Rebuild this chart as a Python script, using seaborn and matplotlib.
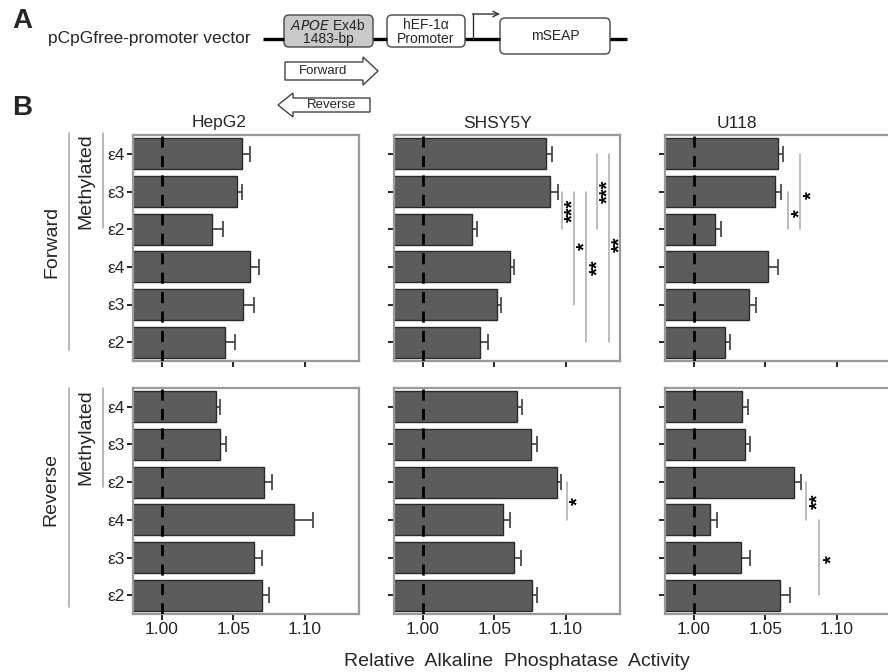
import numpy as np
import pandas as pd
import matplotlib
matplotlib.use('Agg')
import matplotlib.pyplot as plt
from matplotlib.patches import FancyBboxPatch, Polygon
from matplotlib.transforms import offset_copy
import seaborn as sns

# ---- data ----
cells = ['HepG2', 'SHSY5Y', 'U118']
strands = ['Forward', 'Reverse']
rows = ['Methylated ε4', 'Methylated ε3', 'Methylated ε2', 'ε4', 'ε3', 'ε2']
row_labels = ['ε4', 'ε3', 'ε2', 'ε4', 'ε3', 'ε2']
x_ticks = [1.00, 1.05, 1.10]
x_ticklabels = ['1.00', '1.05', '1.10']

hepg2_fwd = [1.056, 1.053, 1.035, 1.062, 1.057, 1.044]
hepg2_fwd_err = [0.0056, 0.0035, 0.008, 0.006, 0.0075, 0.007]
shsy_fwd = [1.086, 1.089, 1.0345, 1.061, 1.052, 1.040]
shsy_fwd_err = [0.0042, 0.006, 0.0037, 0.0028, 0.0028, 0.006]
u118_fwd = [1.0588, 1.057, 1.015, 1.0523, 1.0386, 1.0216]
u118_fwd_err = [0.004, 0.0042, 0.0044, 0.0065, 0.0049, 0.0035]

hepg2_rev = [1.0378, 1.0406, 1.0716, 1.0923, 1.0646, 1.0704]
hepg2_rev_err = [0.003, 0.0042, 0.0054, 0.0135, 0.0056, 0.005]
shsy_rev = [1.066, 1.0761, 1.0942, 1.0562, 1.0641, 1.0766]
shsy_rev_err = [0.0037, 0.0042, 0.0028, 0.0046, 0.0046, 0.0032]
u118_rev = [1.034, 1.0358, 1.070, 1.0116, 1.0328, 1.0602]
u118_rev_err = [0.0037, 0.0033, 0.0051, 0.0047, 0.0067, 0.0074]

values = {
    ('Forward', 'HepG2'): (hepg2_fwd, hepg2_fwd_err),
    ('Forward', 'SHSY5Y'): (shsy_fwd, shsy_fwd_err),
    ('Forward', 'U118'): (u118_fwd, u118_fwd_err),
    ('Reverse', 'HepG2'): (hepg2_rev, hepg2_rev_err),
    ('Reverse', 'SHSY5Y'): (shsy_rev, shsy_rev_err),
    ('Reverse', 'U118'): (u118_rev, u118_rev_err),
}

# significance brackets: (row from, row to, line x, label, label x, label row)
sig_marks = {
    ('Forward', 'SHSY5Y'): [(1, 2, 1.0976, '***', 1.1016, 1.5),
                            (1, 4, 1.1058, '*', 1.1100, 2.45),
                            (1, 5, 1.1139, '**', 1.1188, 3.0),
                            (0, 2, 1.1220, '***', 1.1257, 1.0),
                            (0, 5, 1.1300, '**', 1.1347, 2.4)],
    ('Forward', 'U118'): [(1, 2, 1.0657, '*', 1.0709, 1.57),
                          (0, 2, 1.0746, '*', 1.0790, 1.1)],
    ('Reverse', 'SHSY5Y'): [(2, 3, 1.1012, '*', 1.1050, 2.5)],
    ('Reverse', 'U118'): [(2, 3, 1.0786, '**', 1.0833, 2.5),
                          (3, 5, 1.0877, '*', 1.0930, 4.05)],
}

# ---- style ----
sns.set_style('white')
plt.rcParams['font.family'] = ['Liberation Sans', 'DejaVu Sans']
bar_color = '#5c5c5c'
frame_color = '#9a9a9a'

W, H = 888, 672
fig = plt.figure(figsize=(W / 100, H / 100), dpi=100)

# panel positions in pixels (left, top) ; width/height shared
col_left = [133, 394, 665]
row_top = [135, 388]
pw, ph = 226, 226

def px_axes(left, top, w, h, **kw):
    return fig.add_axes([left / W, 1 - (top + h) / H, w / W, h / H], **kw)

for r, strand in enumerate(strands):
    for c, cell in enumerate(cells):
        ax = px_axes(col_left[c], row_top[r], pw, ph)
        vals, errs = values[(strand, cell)]
        df = pd.DataFrame({'row': rows, 'value': vals, 'err': errs})
        sns.barplot(data=df, y='row', x='value', order=rows, orient='h',
                    color=bar_color, saturation=1, edgecolor='#2a2a2a',
                    linewidth=1.0, width=0.82, errorbar=None, ax=ax, zorder=2)
        ax.errorbar(df['value'], np.arange(len(rows)), xerr=df['err'],
                    fmt='none', ecolor='#4a4a4a', elinewidth=1.3,
                    capsize=6, capthick=1.3, zorder=1)
        ax.axvline(1.0, color='black', ls=(0, (4, 3)), lw=2, zorder=3)

        # rotated asterisks sit high in their line box; nudge right to centre
        star_tr = offset_copy(ax.transData, fig=fig, x=5, y=0, units='dots')
        for (ra, rb, lx, lab, tx, ty) in sig_marks.get((strand, cell), []):
            ax.plot([lx, lx], [ra, rb], color='#ababab', lw=1.1, zorder=2)
            ax.text(tx, ty, lab, rotation=90, ha='center', va='center',
                    fontsize=14.5, fontweight='bold', color='black',
                    transform=star_tr)

        ax.set_xlim(0.98, 1.138)
        ax.set_ylim(5.5, -0.5)
        ax.set_xticks(x_ticks)
        ax.set_yticks(range(len(rows)))
        ax.set_xlabel('')
        ax.set_ylabel('')
        if c == 0:
            ax.set_yticklabels(row_labels)
        else:
            ax.set_yticklabels([])
        if r == 1:
            ax.set_xticklabels(x_ticklabels)
        else:
            ax.set_xticklabels([])
        ax.tick_params(axis='both', length=4, width=1.2, color='black',
                       labelsize=12.5, pad=2, direction='out',
                       bottom=True, left=True)
        for sp in ax.spines.values():
            sp.set_visible(True)
            sp.set_color(frame_color)
            sp.set_linewidth(1.6)

# ---- overlay in pixel coordinates for labels and the vector diagram ----
ov = fig.add_axes([0, 0, 1, 1], zorder=10)
ov.set_xlim(0, W)
ov.set_ylim(H, 0)
ov.axis('off')
ov.patch.set_alpha(0)

ov.text(22, 21, 'A', fontsize=20, fontweight='bold', ha='center', va='center')
ov.text(22, 108, 'B', fontsize=20, fontweight='bold', ha='center', va='center')

ov.text(48, 39, 'pCpGfree-promoter vector', fontsize=12.5, ha='left', va='center')
for x0, x1 in [(263, 284), (373, 387), (465, 500), (610, 627)]:
    ov.plot([x0, x1], [39, 39], color='black', lw=2.4, solid_capstyle='butt')

ov.add_patch(FancyBboxPatch((284, 15), 89, 32, boxstyle='round,pad=0,rounding_size=5',
                            fc='#c9c9c9', ec='#555555', lw=1.1))
ov.text(328, 25, '$\\it{APOE}$ Ex4b', fontsize=10, ha='center', va='center')
ov.text(328, 39, '1483-bp', fontsize=10, ha='center', va='center')

ov.add_patch(FancyBboxPatch((387, 15), 78, 32, boxstyle='round,pad=0,rounding_size=5',
                            fc='white', ec='#555555', lw=1.1))
ov.text(426, 25, 'hEF-1α', fontsize=10, ha='center', va='center')
ov.text(426, 39, 'Promoter', fontsize=10, ha='center', va='center')

ov.add_patch(FancyBboxPatch((500, 18), 110, 36, boxstyle='round,pad=0,rounding_size=5',
                            fc='white', ec='#555555', lw=1.1))
ov.text(555, 36, 'mSEAP', fontsize=10, ha='center', va='center')

ov.plot([473, 473], [39, 14], color='#333333', lw=1)
ov.annotate('', xy=(500, 14), xytext=(472.5, 14),
            arrowprops=dict(arrowstyle='->', lw=1, color='#333333',
                            shrinkA=0, shrinkB=0))

fwd = [(285, 62), (363, 62), (363, 57), (378, 71), (363, 85), (363, 80), (285, 80)]
ov.add_patch(Polygon(fwd, closed=True, fc='white', ec='#444444', lw=1))
ov.text(323, 71, 'Forward', fontsize=9.5, ha='center', va='center')
rev = [(370, 98), (293, 98), (293, 93), (278, 105), (293, 117), (293, 112), (370, 112)]
ov.add_patch(Polygon(rev, closed=True, fc='white', ec='#444444', lw=1))
ov.text(332, 105, 'Reverse', fontsize=9.5, ha='center', va='center')

# column titles
for x, name in zip([219, 498, 737], cells):
    ov.text(x, 123, name, fontsize=12.5, ha='center', va='center')

# strand / methylation brackets
ov.plot([69, 69], [133, 350], color='#ababab', lw=1.2)
ov.plot([103, 103], [133, 228], color='#ababab', lw=1.2)
ov.text(52, 242, 'Forward', fontsize=14, rotation=90, ha='center', va='center')
ov.text(86, 181, 'Methylated', fontsize=14, rotation=90, ha='center', va='center')
ov.plot([69, 69], [388, 607], color='#ababab', lw=1.2)
ov.plot([103, 103], [388, 487], color='#ababab', lw=1.2)
ov.text(51, 489, 'Reverse', fontsize=14, rotation=90, ha='center', va='center')
ov.text(86, 437, 'Methylated', fontsize=14, rotation=90, ha='center', va='center')

ov.text(517, 662, 'Relative  Alkaline  Phosphatase  Activity', fontsize=14,
        ha='center', va='center')

fig.savefig('out.png', dpi=100)
